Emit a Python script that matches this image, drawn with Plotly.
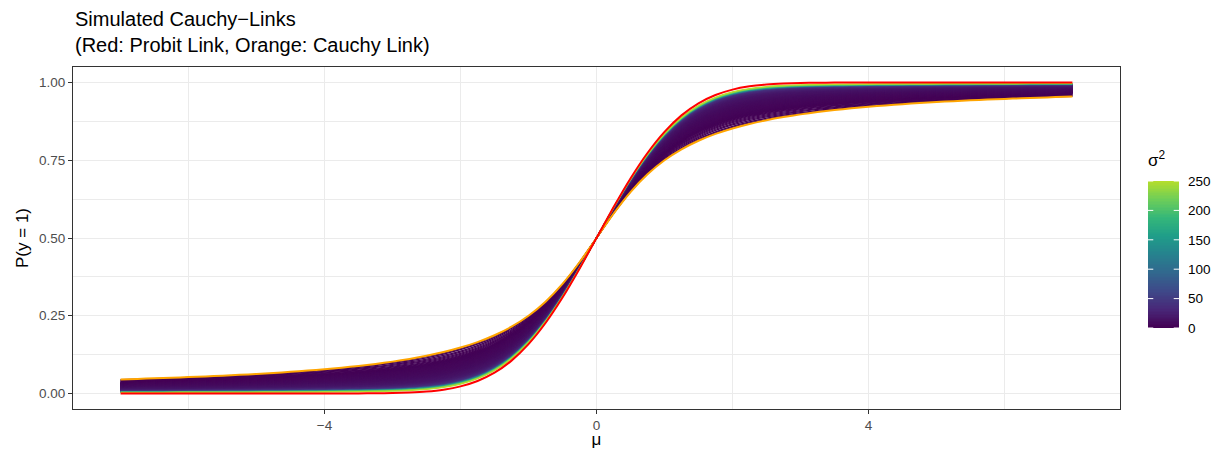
import numpy as np
import plotly.graph_objects as go
from plotly.colors import sample_colorscale

# mu grid (x axis)
MU = [-7.0, -6.75, -6.5, -6.25, -6.0, -5.75, -5.5, -5.25, -5.0, -4.75, -4.5, -4.25, -4.0,
      -3.75, -3.5, -3.25, -3.0, -2.75, -2.5, -2.25, -2.0, -1.75, -1.5, -1.25, -1.0, -0.75, -0.5, -0.25,
      0.0,
      0.25, 0.5, 0.75, 1.0, 1.25, 1.5, 1.75, 2.0, 2.25, 2.5, 2.75, 3.0, 3.25, 3.5, 3.75,
      4.0, 4.25, 4.5, 4.75, 5.0, 5.25, 5.5, 5.75, 6.0, 6.25, 6.5, 6.75, 7.0]

# Red curve: probit link
PROBIT = [0.0, 0.0, 0.0, 0.0, 0.0, 0.0, 0.0, 0.0, 0.0, 0.0, 0.0, 0.0, 0.0,
          0.0001, 0.0002, 0.0006, 0.0013, 0.0030, 0.0062, 0.0122, 0.0228, 0.0401, 0.0668, 0.1056, 0.1587, 0.2266, 0.3085, 0.4013,
          0.5,
          0.5987, 0.6915, 0.7734, 0.8413, 0.8944, 0.9332, 0.9599, 0.9772, 0.9878, 0.9938, 0.9970, 0.9987, 0.9994, 0.9998, 0.9999,
          1.0, 1.0, 1.0, 1.0, 1.0, 1.0, 1.0, 1.0, 1.0, 1.0, 1.0, 1.0, 1.0]

# Orange curve: Cauchy link
CAUCHY = [0.0452, 0.0468, 0.0486, 0.0505, 0.0526, 0.0548, 0.0572, 0.0599, 0.0628, 0.0660, 0.0696, 0.0735, 0.0780,
          0.0829, 0.0886, 0.0950, 0.1024, 0.1110, 0.1211, 0.1331, 0.1476, 0.1652, 0.1872, 0.2148, 0.25, 0.2952, 0.3524, 0.4220,
          0.5,
          0.5780, 0.6476, 0.7048, 0.75, 0.7852, 0.8128, 0.8348, 0.8524, 0.8669, 0.8789, 0.8890, 0.8976, 0.9050, 0.9114, 0.9171,
          0.9220, 0.9265, 0.9304, 0.9340, 0.9372, 0.9401, 0.9428, 0.9452, 0.9474, 0.9495, 0.9514, 0.9532, 0.9548]

# Simulated curves: position between probit (0) and Cauchy (1), and their sigma^2
MIX_WEIGHT = [0.06, 0.075, 0.09, 0.10, 0.11, 0.12, 0.13,
              0.14, 0.15, 0.16, 0.17, 0.18, 0.19, 0.20, 0.21, 0.22, 0.23,
              0.24, 0.25, 0.26, 0.27, 0.28, 0.29, 0.30, 0.31, 0.32, 0.33,
              0.34, 0.35, 0.36, 0.37, 0.38, 0.39, 0.40, 0.41, 0.42, 0.43,
              0.44, 0.45, 0.46, 0.47, 0.48, 0.49, 0.50, 0.51, 0.52, 0.53,
              0.54, 0.55, 0.56, 0.57, 0.58, 0.59, 0.60, 0.61, 0.62, 0.63,
              0.64, 0.65, 0.66, 0.67, 0.68, 0.69, 0.70, 0.71, 0.72, 0.73,
              0.74, 0.75, 0.76,
              0.78, 0.80, 0.825, 0.85, 0.88, 0.91, 0.945, 0.975]
SIGMA2 = [250, 225, 190, 150, 115, 85, 62,
          45, 40, 36, 33, 30, 28, 26, 24, 22, 21,
          20, 19, 18, 17, 16, 15.5, 15, 14.5, 14, 13.5,
          13, 12.5, 12, 11.5, 11, 10.5, 10, 9.7, 9.4, 9.1,
          8.8, 8.5, 8.2, 7.9, 7.6, 7.3, 7.0, 6.8, 6.6, 6.4,
          6.2, 6.0, 5.8, 5.6, 5.4, 5.2, 5.0, 4.8, 4.6, 4.4,
          4.2, 4.0, 3.8, 3.6, 3.4, 3.2, 3.0, 2.8, 2.6, 2.4,
          2.2, 2.1, 2.0,
          1.8, 1.6, 1.4, 1.2, 1.0, 0.8, 0.6, 0.4]

CB_TICKS = [0, 50, 100, 150, 200, 250]
CB_LEVELS = [v * 2.5 for v in range(101)]  # gradient levels for the legend bar (0..250)

VIRIDIS = [[0.0, '#440154'], [0.125, '#482878'], [0.25, '#3e4989'], [0.375, '#31688e'],
           [0.5, '#26828e'], [0.625, '#1f9e89'], [0.75, '#35b779'], [0.875, '#6ece58'],
           [1.0, '#b5de2b']]

W, H = 1217, 449
L, R, T, B = 73, 5, 67, 40
PW = W - L - R
PH = H - T - B
PANEL_RIGHT = 1120
CB_LEFT, CB_RIGHT, CB_TOP, CB_BOTTOM = 1148, 1179, 181, 328

mu = np.array(MU)
p = np.array(PROBIT)
c = np.array(CAUCHY)

fig = go.Figure()

order = sorted(range(len(MIX_WEIGHT)), key=lambda i: -MIX_WEIGHT[i])
for i in order:
    w = MIX_WEIGHT[i]
    col = sample_colorscale(VIRIDIS, [min(SIGMA2[i], 250) / 250])[0]
    fig.add_trace(go.Scatter(x=mu, y=(1 - w) * p + w * c, mode='lines',
                             line=dict(color=col, width=1.3, shape='spline', smoothing=0.6),
                             hoverinfo='skip', showlegend=False))

fig.add_trace(go.Scatter(x=mu, y=c, mode='lines',
                         line=dict(color='#FFA500', width=2, shape='spline', smoothing=0.6),
                         showlegend=False))
fig.add_trace(go.Scatter(x=mu, y=p, mode='lines',
                         line=dict(color='#FF0000', width=2, shape='spline', smoothing=0.6),
                         showlegend=False))

# legend colour bar drawn as a one-column heatmap on its own axes
fig.add_trace(go.Heatmap(x=[0], y=CB_LEVELS, z=[[v] for v in CB_LEVELS],
                         colorscale=VIRIDIS, zmin=0, zmax=250, showscale=False,
                         hoverinfo='skip', xaxis='x2', yaxis='y2'))

axis_common = dict(
    showline=True, mirror=True, linecolor='#333333', linewidth=1,
    ticks='outside', ticklen=4, tickcolor='#333333', tickwidth=1,
    tickfont=dict(size=13.5, color='#4D4D4D'),
    showgrid=True, gridcolor='#EBEBEB', gridwidth=1.1, zeroline=False,
    automargin=False,
)

shapes = []
for t in CB_TICKS:
    for x0, x1 in ((0, 0.17), (0.83, 1)):
        shapes.append(dict(type='line', xref='x2 domain', yref='y2', x0=x0, x1=x1, y0=t, y1=t,
                           line=dict(color='white', width=1)))

fig.update_layout(
    width=W, height=H,
    margin=dict(l=L, r=R, t=T, b=B),
    paper_bgcolor='white', plot_bgcolor='white',
    font=dict(family='Liberation Sans, Arial, sans-serif', color='black'),
    xaxis=dict(domain=[0, (PANEL_RIGHT - L) / PW],
               range=[-7.7, 7.7], tickvals=[-4, 0, 4], ticktext=['−4', '0', '4'],
               minor=dict(tickvals=[-6, -2, 2, 6], showgrid=True, gridcolor='#EBEBEB',
                          gridwidth=0.55, ticks=''),
               title=dict(text='μ', font=dict(size=17, color='black'), standoff=3),
               **axis_common),
    yaxis=dict(range=[-0.05, 1.05], tickvals=[0, 0.25, 0.5, 0.75, 1.0],
               ticktext=['0.00', '0.25', '0.50', '0.75', '1.00'],
               minor=dict(tickvals=[0.125, 0.375, 0.625, 0.875], showgrid=True,
                          gridcolor='#EBEBEB', gridwidth=0.55, ticks=''),
               title=dict(text='P(y = 1)', font=dict(size=17, color='black'), standoff=6),
               **axis_common),
    xaxis2=dict(domain=[(CB_LEFT - L) / PW, (CB_RIGHT - L) / PW], anchor='y2',
                range=[-0.5, 0.5], visible=False, fixedrange=True),
    yaxis2=dict(domain=[(H - B - CB_BOTTOM) / PH, (H - B - CB_TOP) / PH], anchor='x2',
                side='right', range=[0, 250], tickvals=CB_TICKS, ticks='',
                showgrid=False, zeroline=False, showline=False,
                tickfont=dict(size=13.5, color='black'), ticklabelstandoff=8,
                fixedrange=True, automargin=False),
    shapes=shapes,
    annotations=[dict(text='Simulated Cauchy−Links<br>(Red: Probit Link, Orange: Cauchy Link)',
                      xref='paper', yref='paper', x=0, y=1 + (T - 6) / PH,
                      xanchor='left', yanchor='top', align='left', showarrow=False,
                      font=dict(size=20, color='black')),
                 dict(text='σ<sup>2</sup>', xref='paper', yref='paper',
                      x=(CB_LEFT - 2 - L) / PW, y=(H - B - 172) / PH,
                      xanchor='left', yanchor='bottom', showarrow=False,
                      font=dict(size=17, color='black'))],
)

fig.write_html('out.html')
